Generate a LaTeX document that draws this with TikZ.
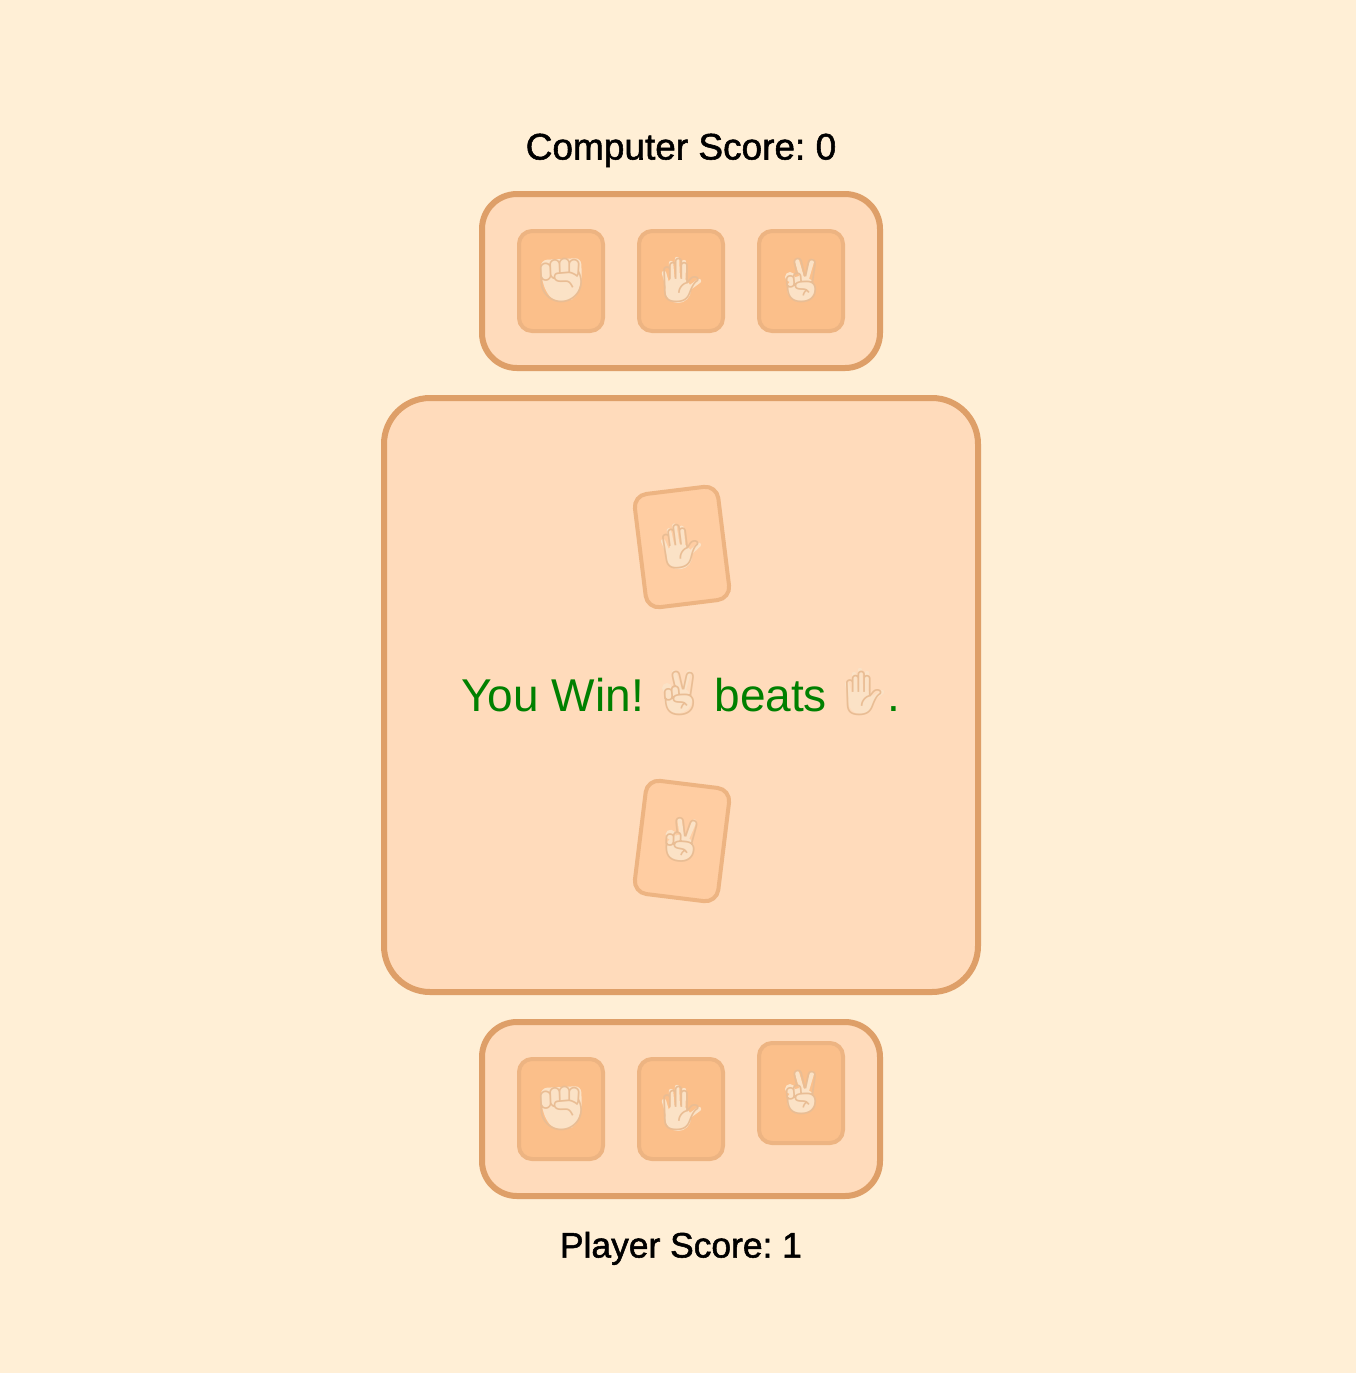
\documentclass[tikz,border=0pt]{standalone}
\usepackage{fontspec}
\setmainfont{Liberation Sans}
\newfontfamily\emojifont{Noto Emoji}
\newfontfamily\scorefont[FakeBold=1.5]{Liberation Sans}
\definecolor{pagebg}{HTML}{FFEFD6}
\definecolor{panelfill}{HTML}{FFDBBB}
\definecolor{panelline}{HTML}{DE9F68}
\definecolor{cardfill}{HTML}{FBBF8A}
\definecolor{cardline}{HTML}{EDB482}
\definecolor{tiltfill}{HTML}{FFCDA2}
\definecolor{skincol}{HTML}{FBE2C6}
\definecolor{handcol}{HTML}{E9BD94}
\definecolor{wincol}{HTML}{008000}
\newcommand{\handfont}{\emojifont\fontsize{22}{22}\selectfont\color{handcol}}
\newcommand{\rockglyph}{{\handfont ✊}}
\newcommand{\paperglyph}{{\handfont ✋}}
\newcommand{\scissorsglyph}{{\handfont ✌}}
\tikzset{
  panel/.style={draw=panelline,fill=panelfill,line width=3pt,inner sep=0pt,rounded corners=17.5pt},
  handcard/.style={draw=cardline,fill=cardfill,line width=2pt,inner sep=0pt,rounded corners=6.5pt,
    minimum width=42pt,minimum height=50pt},
  playcard/.style={handcard,fill=tiltfill,minimum height=57pt},
  scorelabel/.style={font=\scorefont\fontsize{18.5}{18.5}\selectfont\frenchspacing,inner sep=0pt,anchor=base},
  handglyph/.style={inner sep=0pt,transform shape},
  fingerline/.style={draw=skincol,line width=2.2pt,line cap=round},
  pics/rockhand/.style={code={
    \fill[skincol,rounded corners=3pt] (-20,-21)--(20,-23)--(21,-2)--(15,17)--(6,20)--(-7,20)--(-15,11)--(-20,-5)--cycle;
  }},
  pics/paperhand/.style={code={
    \draw[fingerline] (-17,-8)--(-13,6);\draw[fingerline] (-10,-18)--(-8,4);
    \draw[fingerline] (-4,-22)--(-3,4);\draw[fingerline] (3,-19)--(2,4);
    \draw[fingerline] (18,0)--(7,8);
    \fill[skincol] (-3,9) ellipse [x radius=13,y radius=13];
  }},
  pics/scissorshand/.style={code={
    \draw[fingerline] (-4,-20)--(1,-3);\draw[fingerline] (11,-20)--(6,-3);
    \fill[skincol] (-11,-4) circle [radius=5];
    \fill[skincol] (0,8) ellipse [x radius=14,y radius=13];
  }}
}
\begin{document}
\begin{tikzpicture}[x=0.5pt,y=-0.5pt]
\useasboundingbox[fill=pagebg] (0,0) rectangle (1356,1373);
\node[scorelabel] (computerscore) at (681,159.5){Computer Score: 0};
\node[scorelabel,font=\scorefont\fontsize{17.7}{17.7}\selectfont\frenchspacing] (playerscore) at (681,1257.5){Player Score: 1};
% hands
\node[panel,minimum width=199pt,minimum height=87pt] (computerhand) at (681,281){};
\node[panel,minimum width=199pt,minimum height=87pt] (playerhand) at (681,1109){};
\foreach \name/\hand/\cx/\cy/\glyph in {computerrock/rockhand/561/281/\rockglyph,computerpaper/paperhand/681/281/\paperglyph,computerscissors/scissorshand/801/281/\scissorsglyph,playerrock/rockhand/561/1109/\rockglyph,playerpaper/paperhand/681/1109/\paperglyph,playerscissors/scissorshand/801/1093/\scissorsglyph}{
  \node[handcard] (\name) at (\cx,\cy){};
  \pic at (\cx,\cy) {\hand};
  \node[handglyph] (\name glyph) at (\cx,\cy-1){\glyph};
}
% board
\node[panel,rounded corners=23pt,minimum width=297pt,minimum height=297pt] (board) at (681,695){};
\node[playcard,rotate=7] (computerplay) at (682,547){};
\pic[rotate=7] at (681,547) {paperhand};
\node[handglyph,rotate=7] (computerplayglyph) at (681,546){\paperglyph};
\node[playcard,rotate=-7] (playerplay) at (682,841){};
\pic[rotate=-7] at (681,840) {scissorshand};
\node[handglyph,rotate=-7] (playerplayglyph) at (681,840){\scissorsglyph};
\pic at (678,692) {scissorshand};
\pic at (864,692) {paperhand};
\node[anchor=base,inner sep=0pt,text=wincol,font=\fontsize{23}{23}\selectfont\frenchspacing] (result) at (681,711){You Win! \makebox[22.5pt]{\raisebox{1.2pt}{\scissorsglyph}} beats \makebox[24pt]{\raisebox{1.2pt}{\paperglyph}}.};
\end{tikzpicture}
\end{document}
